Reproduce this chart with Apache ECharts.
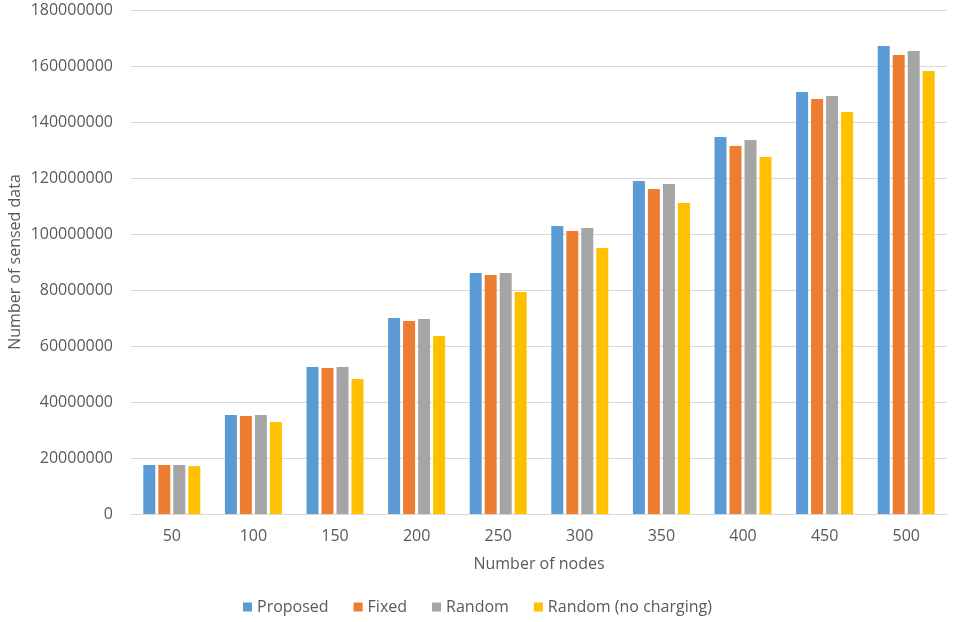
<!DOCTYPE html>
<html>
<head>
<meta charset="utf-8">
<script src="https://cdn.jsdelivr.net/npm/echarts@6/dist/echarts.min.js"></script>
<style>html,body{margin:0;padding:0;background:#fff;}#c{width:955px;height:622px;}</style>
</head>
<body>
<div id="c"></div>
<script>
const categories = ['50','100','150','200','250','300','350','400','450','500'];
const proposed = [17500000, 35400000, 52500000, 70000000, 86100000, 102900000, 118900000, 134600000, 150700000, 167100000];
const fixed    = [17500000, 35000000, 52100000, 68900000, 85400000, 101100000, 116100000, 131400000, 148200000, 163900000];
const random   = [17500000, 35400000, 52500000, 69600000, 86100000, 102100000, 117900000, 133600000, 149300000, 165400000];
const randomNoCharging = [17100000, 32900000, 48200000, 63600000, 79300000, 95000000, 111100000, 127500000, 143600000, 158200000];
const seriesNames = ['Proposed','Fixed','Random','Random (no charging)'];
const colors = ['#5B9BD5','#ED7D31','#A5A5A5','#FFC000'];

const font = 'Open Sans, Noto Sans, sans-serif';
const chart = echarts.init(document.getElementById('c'), null, {renderer:'canvas'});
const data = [proposed, fixed, random, randomNoCharging];
chart.setOption({
  animation: false,
  color: colors,
  grid: {left: 131, right: 8, top: 10, bottom: 108, containLabel: false, outerBoundsMode: 'none'},
  legend: {
    bottom: 2, left: 'center', itemWidth: 9, itemHeight: 9, itemGap: 25,
    icon: 'rect',
    textStyle: {color: '#595959', fontSize: 16, fontFamily: font},
    data: seriesNames
  },
  xAxis: {
    type: 'category', data: categories,
    name: 'Number of nodes', nameLocation: 'middle', nameGap: 42,
    nameTextStyle: {color: '#595959', fontSize: 16, fontFamily: font},
    axisLine: {lineStyle: {color: '#D9D9D9', width: 1}},
    axisTick: {show: false},
    axisLabel: {color: '#595959', fontSize: 16, fontFamily: font, margin: 14}
  },
  yAxis: {
    type: 'value', min: 0, max: 180000000, interval: 20000000,
    name: 'Number of sensed data', nameLocation: 'middle', nameGap: 108, nameRotate: 90,
    nameMoveOverlap: false,
    nameTextStyle: {color: '#595959', fontSize: 16, fontFamily: font},
    axisLine: {show: false}, axisTick: {show: false},
    splitLine: {lineStyle: {color: '#D9D9D9', width: 1}},
    axisLabel: {color: '#595959', fontSize: 16, fontFamily: font, margin: 18, formatter: v => String(v)}
  },
  series: seriesNames.map((n, i) => ({
    name: n, type: 'bar', data: data[i],
    barWidth: 12, barGap: '25%', barCategoryGap: '30%'
  }))
});
</script>
</body>
</html>
